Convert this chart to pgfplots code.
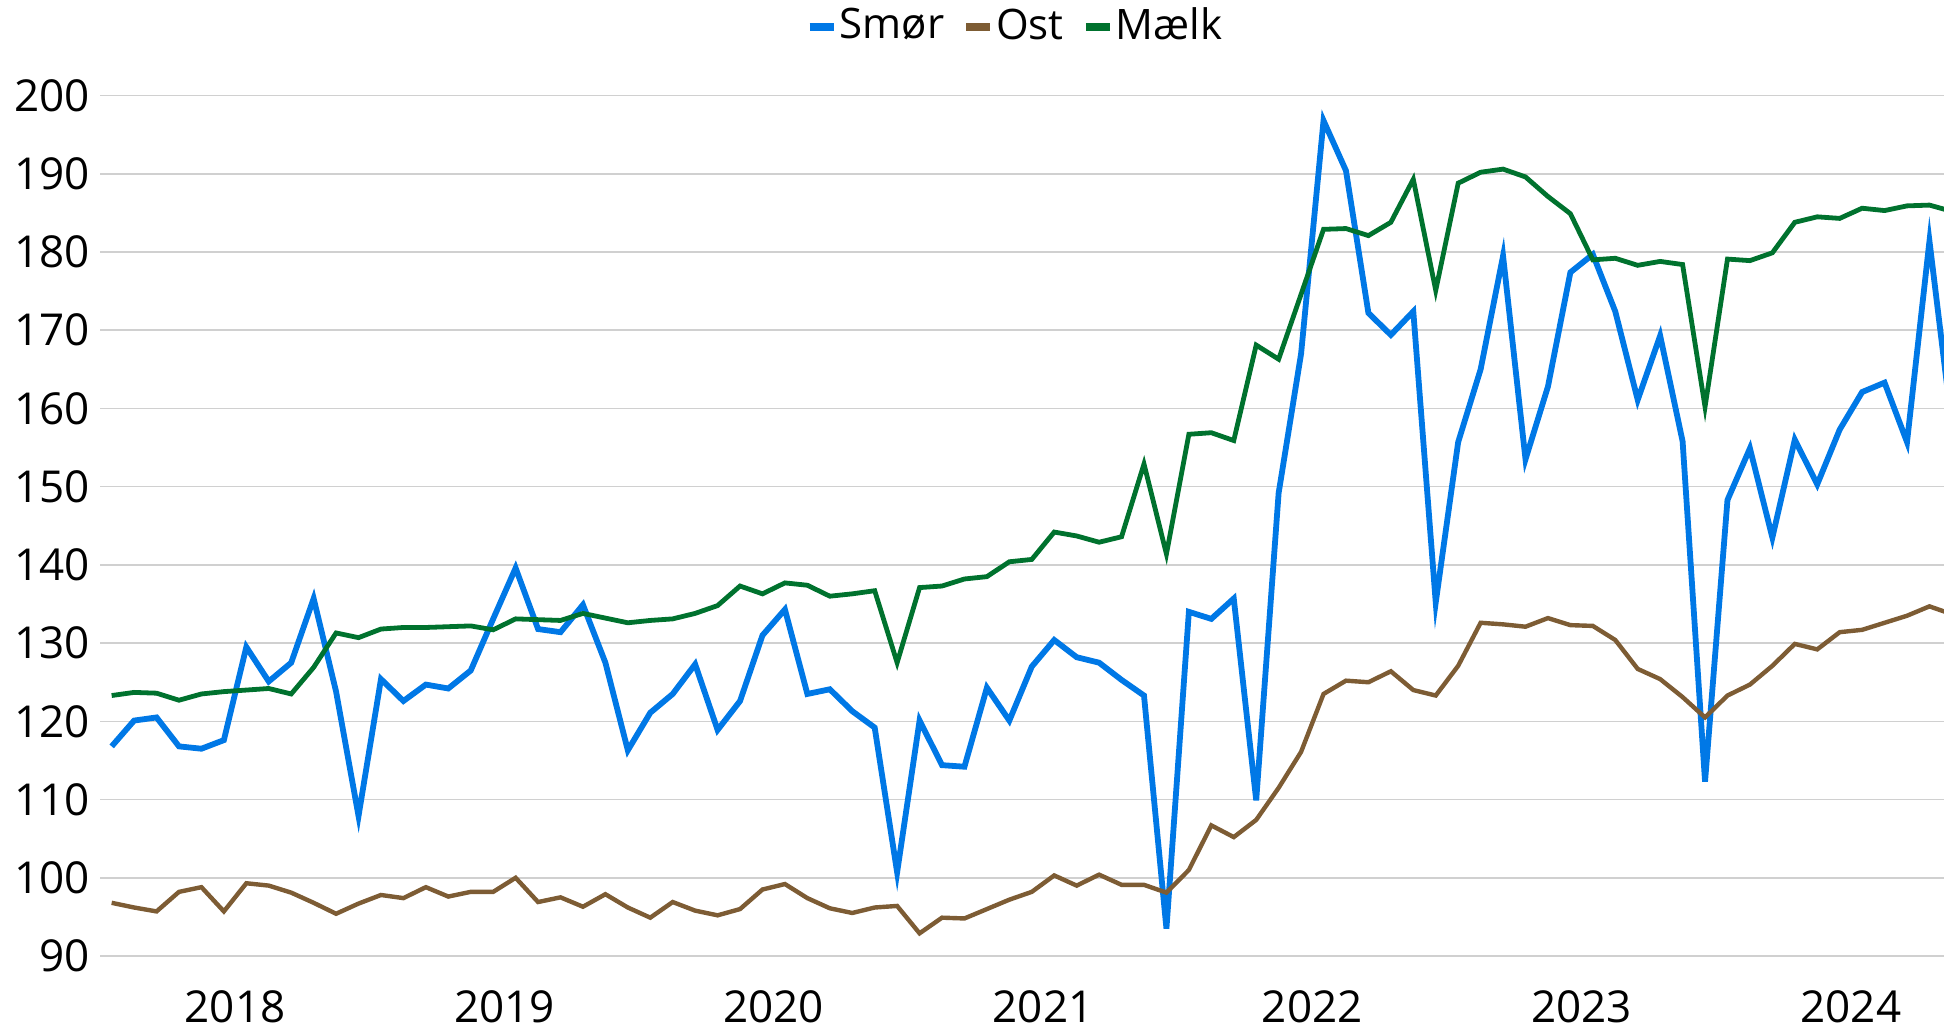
\documentclass[border=0pt]{standalone}
\usepackage{fontspec}
\setmainfont{Open Sans}
\usepackage{pgfplots}
\usepackage{pgfplotstable}
\pgfplotsset{compat=1.18}
\definecolor{cblue}{RGB}{0,120,230}
\definecolor{cbrown}{RGB}{125,92,52}
\definecolor{cgreen}{RGB}{0,114,46}
\definecolor{cgrid}{RGB}{208,208,208}
\pgfplotstableread{
x s o m
0 116.8 96.8 123.3
1 120.1 96.2 123.7
2 120.5 95.7 123.6
3 116.8 98.2 122.7
4 116.5 98.8 123.5
5 117.6 95.7 123.8
6 129.5 99.3 124.0
7 125.1 99.0 124.2
8 127.5 98.1 123.5
9 135.7 96.8 126.9
10 123.8 95.4 131.3
11 107.9 96.7 130.7
12 125.4 97.8 131.8
13 122.6 97.4 132.0
14 124.7 98.8 132.0
15 124.2 97.6 132.1
16 126.5 98.2 132.2
17 133.1 98.2 131.7
18 139.6 100.0 133.1
19 131.8 96.9 133.0
20 131.4 97.5 132.9
21 134.9 96.3 133.8
22 127.5 97.9 133.2
23 116.3 96.2 132.6
24 121.1 94.9 132.9
25 123.5 96.9 133.1
26 127.3 95.8 133.8
27 118.9 95.2 134.8
28 122.6 96.0 137.3
29 131.0 98.5 136.3
30 134.3 99.2 137.7
31 123.5 97.4 137.4
32 124.1 96.1 136.0
33 121.3 95.5 136.3
34 119.2 96.2 136.7
35 100.7 96.4 127.5
36 120.1 92.9 137.1
37 114.4 94.9 137.3
38 114.2 94.8 138.2
39 124.3 96.0 138.5
40 120.1 97.2 140.4
41 127.0 98.2 140.7
42 130.4 100.3 144.2
43 128.2 99.0 143.7
44 127.5 100.4 142.9
45 125.3 99.1 143.6
46 123.3 99.1 152.9
47 93.5 98.1 141.4
48 134.0 101.0 156.7
49 133.1 106.7 156.9
50 135.7 105.2 155.9
51 109.9 107.4 168.1
52 149.2 111.5 166.3
53 167.0 116.1 174.6
54 196.8 123.5 182.9
55 190.4 125.2 183.0
56 172.2 125.0 182.1
57 169.4 126.4 183.8
58 172.4 124.0 189.3
59 135.2 123.3 175.1
60 155.7 127.1 188.8
61 165.0 132.6 190.2
62 179.5 132.4 190.6
63 153.5 132.1 189.6
64 162.8 133.2 187.1
65 177.4 132.3 184.9
66 179.7 132.2 179.0
67 172.4 130.4 179.2
68 161.1 126.7 178.3
69 169.3 125.4 178.8
70 155.8 123.1 178.4
71 112.3 120.5 160.2
72 148.3 123.3 179.1
73 154.9 124.7 178.9
74 143.5 127.1 179.9
75 156.0 129.9 183.8
76 150.3 129.2 184.5
77 157.3 131.4 184.3
78 162.1 131.7 185.6
79 163.3 132.6 185.3
80 155.7 133.5 185.9
81 181.4 134.7 186.0
82 157.8 133.7 185.2
}\datatable
\begin{document}
\begin{tikzpicture}
\begin{axis}[
  at={(0,0)}, anchor=south west,
  scale only axis,
  width=461pt, height=215.1pt,
  xmin=-0.52, xmax=81.65,
  ymin=90, ymax=200,
  ytick={90,100,...,200},
  xtick={5.5,17.5,29.5,41.5,53.5,65.5,77.5},
  xticklabels={2018,2019,2020,2021,2022,2023,2024},
  axis line style={draw=none},
  major tick length=0pt,
  ymajorgrids,
  grid style={cgrid, line width=0.4pt},
  tick label style={font=\fontsize{11}{13}\selectfont, text=black},
  x tick label style={yshift=-5pt},
  y tick label style={xshift=1pt},
  /pgf/number format/assume math mode=true,
  clip=true,
  legend columns=3,
  legend style={at={(axis description cs:0.5,1)}, anchor=center, yshift=17.2pt, xshift=-1pt,
    draw=none, fill=none, font=\fontsize{10.5}{12}\selectfont,
    /tikz/every even column/.append style={column sep=2.5pt},
    /tikz/every odd column/.append style={column sep=-1.5pt}},
  legend image code/.code={\draw[#1, line width=2pt] (0pt,0pt) -- (6pt,0pt);},
]
\addplot[cblue, line width=1.45pt, line join=miter] table[x=x, y=s] {\datatable};
\addlegendentry{Smør}
\addplot[cbrown, line width=1.1pt] table[x=x, y=o] {\datatable};
\addlegendentry{Ost}
\addplot[cgreen, line width=1.2pt] table[x=x, y=m] {\datatable};
\addlegendentry{Mælk}
\end{axis}
\pgfresetboundingbox
\useasboundingbox (-25pt,-17.75pt) rectangle (461pt,239pt);
\end{tikzpicture}
\end{document}
